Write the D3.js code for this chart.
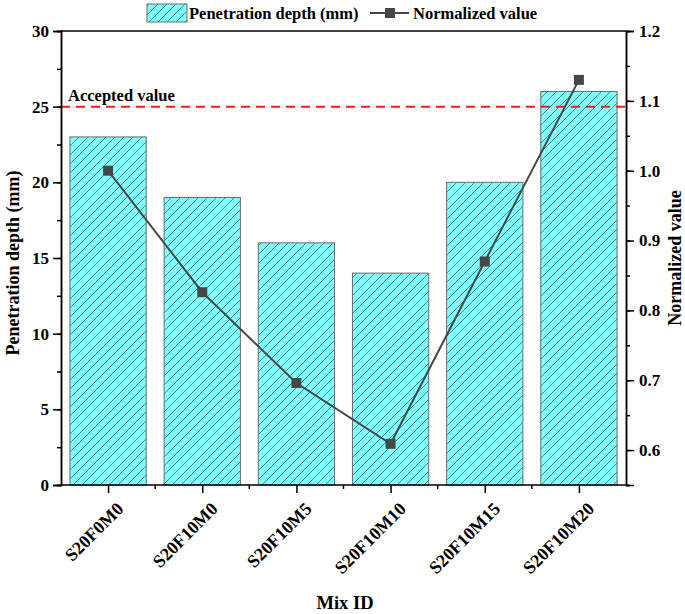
<!DOCTYPE html>
<html><head><meta charset="utf-8">
<script src="https://cdn.jsdelivr.net/npm/d3@7"></script>
<style>body{margin:0;background:#fff}svg{display:block}text{font-family:"Liberation Serif","Times New Roman",serif;font-weight:bold;fill:#000}</style>
</head><body><svg id="c" width="685" height="614"></svg>
<script>
const categories=["S20F0M0","S20F10M0","S20F10M5","S20F10M10","S20F10M15","S20F10M20"];
const depth=[23,19,16,14,20,26];
const normalized=[1.0,0.826,0.696,0.609,0.870,1.130];
const leftTicks=[0,5,10,15,20,25,30];
const rightTicks=[0.6,0.7,0.8,0.9,1.0,1.1,1.2];
const acceptedValue=25;

const svg=d3.select("#c");
const L=61,R=626,T=31,B=485;
const x=d3.scaleBand().domain(categories).range([L,R]).paddingInner(0.19).paddingOuter(0.095);
const xc=d3.scalePoint().domain(categories).range([L,R]).padding(0.5);
const yL=d3.scaleLinear().domain([0,30]).range([B,T]);
const yR=d3.scaleLinear().domain([0.55,1.2]).range([B,T]);

const defs=svg.append("defs");
const S=9;
const pat=defs.append("pattern").attr("id","hatch").attr("patternUnits","userSpaceOnUse")
 .attr("width",S).attr("height",S);
pat.append("rect").attr("width",S).attr("height",S).attr("fill","#80ffff");
pat.append("path").attr("d",`M0,${S}L${S},0M-2,2L2,-2M${S-2},${S+2}L${S+2},${S-2}`)
 .attr("stroke","#3f7f7f").attr("stroke-width",0.9);

// bars
svg.append("g").selectAll("rect").data(categories).join("rect")
 .attr("x",d=>x(d)).attr("width",x.bandwidth())
 .attr("y",(d,i)=>yL(depth[i])).attr("height",(d,i)=>B-yL(depth[i]))
 .attr("fill","url(#hatch)").attr("stroke","#6a6a6a").attr("stroke-width",1);

// accepted line
svg.append("line").attr("x1",L).attr("x2",R).attr("y1",yL(acceptedValue)).attr("y2",yL(acceptedValue))
 .attr("stroke","#ff1a1a").attr("stroke-width",2).attr("stroke-dasharray","9,6");
svg.append("text").attr("x",68).attr("y",yL(acceptedValue)-6).attr("font-size",16.5).text("Accepted value");

// frame top
svg.append("line").attr("x1",L).attr("x2",R).attr("y1",T).attr("y2",T).attr("stroke","#000").attr("stroke-width",1.5);

// left axis
const gl=svg.append("g").attr("transform",`translate(${L},0)`);
gl.call(d3.axisLeft(yL).tickValues(d3.range(0,30.1,2.5)).tickSize(4).tickFormat(""));
const gl2=svg.append("g").attr("transform",`translate(${L},0)`);
gl2.call(d3.axisLeft(yL).tickValues(leftTicks).tickSize(8).tickPadding(4).tickFormat(d3.format("d")));
[gl,gl2].forEach(g=>{g.select(".domain").attr("stroke-width",1.5);g.selectAll(".tick line").attr("stroke-width",1.5);});
gl2.selectAll("text").attr("font-size",17).style("font-family","Liberation Serif").style("font-weight","bold");

// right axis
const gr=svg.append("g").attr("transform",`translate(${R},0)`);
gr.call(d3.axisRight(yR).tickValues(d3.range(0.55,1.201,0.05)).tickSize(4).tickFormat(""));
const gr2=svg.append("g").attr("transform",`translate(${R},0)`);
gr2.call(d3.axisRight(yR).tickValues(rightTicks).tickSize(8).tickPadding(5).tickFormat(d3.format(".1f")));
[gr,gr2].forEach(g=>{g.select(".domain").attr("stroke-width",1.5);g.selectAll(".tick line").attr("stroke-width",1.5);});
gr2.selectAll("text").attr("font-size",17).style("font-family","Liberation Serif").style("font-weight","bold");

// bottom axis
const gb=svg.append("g").attr("transform",`translate(0,${B})`);
const bounds=d3.range(0,categories.length+1).map(i=>L+i*(R-L)/categories.length);
gb.append("path").attr("d",`M${L},0H${R}`).attr("stroke","#000").attr("stroke-width",1.5);
gb.selectAll("line.minor").data(bounds.slice(1,-1)).join("line").attr("class","minor")
 .attr("x1",d=>d).attr("x2",d=>d).attr("y1",0).attr("y2",4).attr("stroke","#000").attr("stroke-width",1.5);
const gb2=svg.append("g").attr("transform",`translate(0,${B})`);
gb2.call(d3.axisBottom(xc).tickSize(8).tickFormat(d=>d));
gb2.select(".domain").remove();
gb2.selectAll(".tick line").attr("stroke-width",1.5);
gb2.selectAll("text").attr("font-size",18).style("font-family","Liberation Serif").style("font-weight","bold")
 .attr("text-anchor","end").attr("dy",0).attr("y",0)
 .attr("transform","translate(16,25) rotate(-45)");

// line series
const line=d3.line().x((d,i)=>xc(categories[i])).y(d=>yR(d));
svg.append("path").datum(normalized).attr("d",line).attr("fill","none").attr("stroke","#474747").attr("stroke-width",2);
svg.append("g").selectAll("rect").data(normalized).join("rect")
 .attr("x",(d,i)=>xc(categories[i])-5).attr("y",d=>yR(d)-5).attr("width",10).attr("height",10).attr("fill","#474747");

// axis titles
svg.append("text").attr("transform",`translate(19,${(T+B)/2+5}) rotate(-90)`).attr("text-anchor","middle").attr("font-size",18).text("Penetration depth (mm)");
svg.append("text").attr("transform",`translate(681,${(T+B)/2}) rotate(-90)`).attr("text-anchor","middle").attr("font-size",18).text("Normalized value");
svg.append("text").attr("x",345).attr("y",609).attr("text-anchor","middle").attr("font-size",18.5).text("Mix ID");

// legend
const lg=svg.append("g");
lg.append("rect").attr("x",147).attr("y",4).attr("width",40).attr("height",18).attr("fill","url(#hatch)").attr("stroke","#6a6a6a");
lg.append("text").attr("x",189).attr("y",19).attr("font-size",16.5).text("Penetration depth (mm)");
lg.append("line").attr("x1",370).attr("x2",409).attr("y1",13).attr("y2",13).attr("stroke","#474747").attr("stroke-width",2);
lg.append("rect").attr("x",385).attr("y",8).attr("width",10).attr("height",10).attr("fill","#474747");
lg.append("text").attr("x",413).attr("y",19).attr("font-size",16.5).text("Normalized value");
</script></body></html>
